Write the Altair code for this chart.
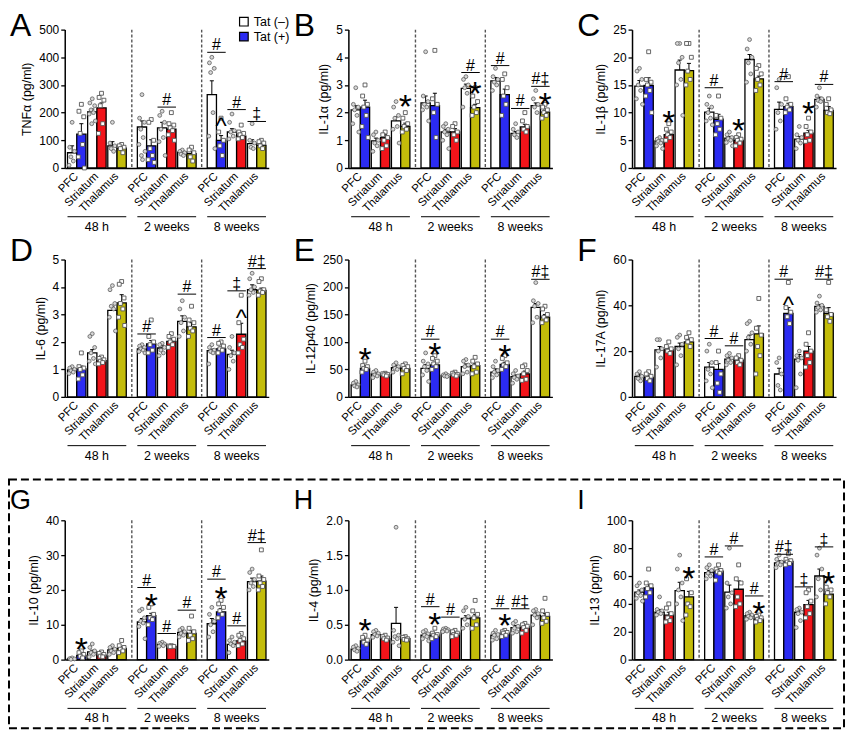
import altair as alt
import pandas as pd

FONT = "Liberation Sans"
GROUPS = ["48 h", "2 weeks", "8 weeks"]
REGIONS = ["PFC", "Striatum", "Thalamus"]
TAT = ["Tat (–)", "Tat (+)"]
LETTERS = ["A", "B", "C", "D", "E", "F", "G", "H", "I"]
YTITLES = ["TNFα (pg/ml)", "IL-1α (pg/ml)", "IL-1β (pg/ml)", "IL-6 (pg/ml)",
           "IL-12p40 (pg/ml)", "IL-17A (pg/ml)", "IL-10 (pg/ml)", "IL-4 (pg/ml)",
           "IL-13 (pg/ml)"]
YMAX = [500, 5, 25, 5, 250, 60, 40, 2.0, 100]
YSTEP = [100, 1, 5, 1, 50, 20, 10, 0.5, 20]
YFMT = ["d", "d", "d", "d", "d", "d", "d", ".1f", "d"]
PLUS_COLORS = ["#2b2bf2", "#f2141a", "#c3bc0a"]

# order: 48h(PFC-,PFC+,Str-,Str+,Thal-,Thal+), 2 weeks(...), 8 weeks(...)
A_MEAN = [55, 122, 203, 217, 80, 72, 148, 80, 145, 140, 57, 52, 265, 100, 130, 115, 88, 82]
A_SEM = [25, 38, 10, 18, 15, 8, 22, 22, 20, 12, 6, 8, 50, 17, 12, 8, 14, 7]
A_PTS = [[165, 75, 60, 40, 25, 10], [230, 205, 185, 125, 85, 40, 0],
         [250, 235, 225, 210, 200, 195, 170, 160], [270, 255, 245, 225, 160, 125],
         [165, 90, 80, 70, 60], [85, 80, 75, 70, 55],
         [265, 180, 165, 140, 110, 85, 60, 45, 30], [175, 165, 100, 70, 45, 30, 20],
         [205, 190, 165, 140, 110, 95, 45], [200, 160, 155, 145, 135, 120, 100],
         [65, 60, 55, 50, 45], [75, 65, 55, 40, 25],
         [400, 380, 360, 345, 200, 115, 70], [180, 130, 100, 80, 45],
         [195, 165, 135, 130, 115, 105], [155, 130, 125, 120, 110, 105],
         [160, 100, 90, 75, 70], [100, 95, 90, 80, 70]]
A_SIG = [(1, 1, "line", "#", 220), (2, 0, "line", "#", 418), (2, 0, "caret", "^", 150),
         (2, 1, "line", "#", 211), (2, 2, "line", "‡", 168)]

B_MEAN = [2.1, 2.2, 0.98, 1.1, 1.7, 1.5, 2.35, 2.25, 1.3, 1.3, 2.88, 2.18, 3.15, 2.65, 1.25, 1.48, 2.25, 2.02]
B_SEM = [0.15, 0.25, 0.1, 0.1, 0.15, 0.12, 0.25, 0.45, 0.1, 0.12, 0.15, 0.12, 0.12, 0.2, 0.07, 0.1, 0.1, 0.07]
B_PTS = [[2.9, 2.3, 2.2, 2.1, 1.9, 1.6, 1.3], [3.0, 2.6, 2.3, 2.2, 1.9, 1.5, 1.1],
         [1.3, 1.2, 1.0, 0.9, 0.8, 0.6], [1.3, 1.2, 1.1, 1.0, 0.8, 0.7],
         [2.4, 2.2, 1.9, 1.8, 1.5, 1.4, 0.9], [2.0, 1.8, 1.6, 1.5, 1.4, 1.3],
         [4.2, 2.6, 2.4, 2.3, 2.2, 2.1, 1.7], [4.25, 2.5, 2.3, 2.0, 1.1],
         [1.6, 1.5, 1.4, 1.3, 1.2, 1.0, 0.7], [1.6, 1.5, 1.3, 1.2, 1.0],
         [3.3, 3.2, 3.0, 2.9, 2.7, 2.2], [2.9, 2.6, 2.4, 2.2, 2.0, 1.9],
         [3.6, 3.3, 3.2, 3.1, 3.0, 2.8], [3.4, 3.2, 2.9, 2.6, 2.3, 1.9],
         [1.6, 1.4, 1.3, 1.2, 1.1], [2.0, 1.7, 1.5, 1.4, 1.3],
         [2.8, 2.5, 2.3, 2.2, 2.0], [2.3, 2.2, 2.1, 2.0, 1.9, 1.8]]
B_SIG = [(0, 2, "star", "*", 2.5), (1, 2, "line", "#", 3.45), (1, 2, "star", "*", 2.95),
         (2, 0, "line", "#", 3.7), (2, 1, "line", "#", 2.15), (2, 2, "line", "#‡", 2.95),
         (2, 2, "star", "*", 2.55)]

C_MEAN = [14.8, 14.9, 4.9, 6.0, 17.7, 17.6, 10.1, 8.8, 5.4, 5.0, 19.6, 16.1, 10.6, 11.1, 5.2, 6.3, 12.4, 10.4]
C_SEM = [1.0, 1.4, 0.4, 0.5, 1.8, 1.3, 0.7, 0.9, 0.3, 0.4, 0.9, 0.5, 1.3, 0.6, 0.5, 0.5, 0.4, 0.7]
C_PTS = [[18, 17.5, 16, 15, 14, 12.5, 11.5], [21, 16, 15.5, 15, 14, 13, 10],
         [5.5, 5.2, 5, 4.8, 4.5, 4, 3.5], [8, 7, 6.5, 6, 5.5, 5],
         [22.5, 22.5, 20, 19, 16, 15, 9.5], [22.5, 22.5, 20, 17.5, 16, 15],
         [13, 11.5, 11, 10, 9, 8.5, 7.8], [13, 9.5, 9, 8, 7, 6],
         [6.5, 6, 5.5, 5.3, 5, 4.6, 4], [6, 5.5, 5.2, 5, 4.5, 4],
         [23.2, 21.5, 20, 19, 17, 15.5], [18.5, 18, 17, 16, 15, 14],
         [16, 14.5, 11.5, 10, 8.5, 7], [16.5, 12.5, 11.5, 11, 10.5, 10],
         [7.5, 6, 5.5, 5, 4.5, 3.5], [9, 7.5, 6.5, 6, 5, 4.8],
         [14.5, 13, 12.5, 12.2, 12, 11], [12.5, 11.5, 10.5, 10, 9.8]]
C_SIG = [(0, 1, "star", "*", 9.6), (1, 0, "line", "#", 14.5), (1, 1, "star", "*", 8.1),
         (2, 0, "line", "#", 15.6), (2, 1, "star", "*", 11.1), (2, 2, "line", "#", 15.1)]

D_MEAN = [0.98, 1.02, 1.6, 1.32, 3.15, 3.42, 1.75, 1.93, 1.78, 2.02, 2.75, 2.55, 1.68, 1.75, 1.55, 2.28, 3.9, 3.88]
D_SEM = [0.05, 0.1, 0.12, 0.08, 0.15, 0.3, 0.05, 0.12, 0.1, 0.1, 0.2, 0.15, 0.06, 0.06, 0.15, 0.4, 0.18, 0.08]
D_PTS = [[1.1, 1.05, 1.0, 0.95, 0.9, 0.85], [1.6, 1.1, 1.05, 1.0, 0.8, 0.65],
         [2.3, 2.2, 1.8, 1.6, 1.4, 1.3, 1.2], [1.45, 1.4, 1.35, 1.3, 1.25, 1.2],
         [4.05, 3.9, 3.4, 3.3, 3.2, 2.9, 2.4], [4.2, 4.1, 3.6, 3.4, 3.2, 2.9, 2.6],
         [1.9, 1.85, 1.8, 1.75, 1.7, 1.65, 1.6], [2.8, 2.2, 2.0, 1.9, 1.7, 1.6],
         [1.95, 1.9, 1.8, 1.7, 1.6, 1.5], [2.3, 2.2, 2.1, 2.0, 1.9, 1.8],
         [3.5, 3.2, 2.9, 2.7, 2.4, 2.2], [3.3, 2.8, 2.7, 2.5, 2.4, 2.2],
         [1.9, 1.8, 1.7, 1.65, 1.6, 1.2], [2.0, 1.95, 1.85, 1.75, 1.7, 1.6],
         [2.2, 1.8, 1.6, 1.5, 1.3, 1.0], [3.7, 2.7, 2.1, 1.9, 1.8, 1.6],
         [4.5, 4.3, 4.0, 3.9, 3.8, 3.7], [4.3, 4.2, 3.9, 3.85, 3.8, 3.7]]
D_SIG = [(1, 0, "line", "#", 2.29), (1, 2, "line", "#", 3.74), (2, 0, "line", "#", 2.16),
         (2, 1, "line", "‡", 3.86), (2, 1, "caret", "^", 2.86), (2, 2, "line", "#‡", 4.67)]

E_MEAN = [22, 52, 42, 40, 53, 52, 52, 58, 39, 40, 55, 57, 45, 59, 37, 42, 163, 145]
E_SEM = [3, 5, 3, 2, 4, 4, 7, 5, 1, 2, 5, 4, 6, 4, 3, 5, 7, 5]
E_PTS = [[28, 25, 22, 20, 18], [65, 57, 55, 52, 50, 45],
         [48, 45, 42, 40, 38, 35], [43, 42, 41, 40, 38],
         [62, 58, 55, 52, 50, 45], [60, 57, 55, 52, 48, 42],
         [80, 65, 60, 55, 48, 40, 28], [75, 70, 65, 60, 55, 50],
         [42, 40, 39, 38, 37], [45, 43, 41, 40, 38],
         [68, 65, 58, 55, 45, 42], [72, 65, 60, 55, 45, 42],
         [65, 55, 48, 45, 40, 35], [75, 70, 62, 58, 55, 50],
         [48, 42, 38, 35, 32, 25], [58, 55, 48, 42, 32, 30],
         [208, 175, 170, 165, 145, 135], [165, 160, 150, 145, 140, 135]]
E_SIG = [(0, 0, "star", "*", 81), (1, 0, "line", "#", 105), (1, 0, "star", "*", 90),
         (2, 0, "line", "#", 105), (2, 0, "star", "*", 87), (2, 2, "line", "#‡", 214)]

F_MEAN = [9, 8.5, 20.5, 20.5, 22, 24, 13, 12, 16.5, 16, 25, 27.5, 10, 36.5, 16.5, 20, 39.5, 36.5]
F_SEM = [1, 0.8, 1.5, 0.8, 1.5, 1, 2, 2.5, 0.8, 1, 2, 3.5, 2.5, 2.5, 2, 2, 0.8, 2.5]
F_PTS = [[11, 10, 9, 8, 7], [11, 10, 9, 8, 7],
         [25, 25, 21, 20, 17, 13], [24, 22, 21, 20, 19],
         [27, 26, 23, 21, 18, 14], [28, 26, 25, 24, 22],
         [23, 20, 15, 12, 10, 7, 4], [20, 15, 10, 6, 2],
         [19, 18, 17, 16, 15, 14], [18, 17, 16, 15, 14],
         [33, 32, 28, 26, 23, 20], [43, 30, 27, 22, 18, 10],
         [17, 15, 10, 5, 3], [50, 39, 37, 35, 32],
         [20, 18, 17, 16, 10, 4], [28, 23, 20, 18, 15, 13],
         [44, 41, 40, 39, 38, 37], [50, 38, 36, 35, 33]]
F_SIG = [(1, 0, "line", "#", 25.5), (1, 1, "line", "#", 22.3), (2, 0, "line", "#", 51.4),
         (2, 0, "caret", "^", 40.3), (2, 2, "line", "#‡", 51.4)]

G_MEAN = [0.3, 1.2, 2.2, 1.3, 2.8, 3.2, 10.8, 12.6, 4.4, 3.8, 7.8, 7.5, 10.3, 13.7, 4.4, 5.4, 22.4, 22.5]
G_SEM = [0.2, 0.5, 0.5, 0.3, 0.4, 0.5, 1, 0.7, 0.2, 0.1, 0.5, 0.8, 1.5, 1, 0.5, 0.4, 1, 1.5]
G_PTS = [[0.5, 0.3, 0.2, 0.1], [2.5, 2, 1.5, 1, 0.5],
         [4.5, 3.5, 2.5, 2, 1.5, 0.8], [2.2, 1.8, 1.5, 1, 0.8],
         [4, 3.5, 3, 2.5, 2, 1.5], [5.5, 4, 3.5, 3, 2.5, 2],
         [14.5, 14, 12, 11, 10.5, 9.5, 6], [16, 15, 13, 12, 11.5, 10],
         [5, 4.7, 4.5, 4.3, 4, 3.8], [4, 3.9, 3.8, 3.7],
         [9, 8.5, 8, 7.5, 7, 6.5], [12.5, 9, 8, 7, 6, 5.5],
         [15, 13, 11, 10, 8, 6.5], [17, 16, 15, 14, 13, 12],
         [6.5, 5.5, 5, 4.5, 4, 2], [7.5, 7, 6, 5.5, 4.5, 4],
         [26, 25, 23, 22, 21, 20], [31.5, 24, 23, 22, 21, 20]]
G_SIG = [(0, 0, "star", "*", 4.9), (1, 0, "line", "#", 20.7), (1, 0, "star", "*", 17.8),
         (1, 1, "line", "#", 7.5), (1, 2, "line", "#", 14.2), (2, 0, "line", "#", 23.1),
         (2, 0, "star", "*", 19.7), (2, 1, "line", "#", 9.7), (2, 2, "line", "#‡", 33.6)]

H_MEAN = [0.15, 0.27, 0.36, 0.3, 0.52, 0.3, 0.35, 0.35, 0.42, 0.38, 0.59, 0.6, 0.35, 0.38, 0.46, 0.47, 0.64, 0.62]
H_SEM = [0.02, 0.03, 0.02, 0.02, 0.23, 0.02, 0.02, 0.02, 0.01, 0.02, 0.04, 0.05, 0.02, 0.02, 0.03, 0.02, 0.03, 0.04]
H_PTS = [[0.2, 0.18, 0.16, 0.14, 0.12], [0.35, 0.32, 0.28, 0.25, 0.22],
         [0.42, 0.4, 0.38, 0.36, 0.34, 0.32], [0.35, 0.33, 0.31, 0.3, 0.28],
         [1.9, 0.42, 0.35, 0.33, 0.3, 0.25, 0.2], [0.33, 0.32, 0.3, 0.29, 0.28],
         [0.42, 0.4, 0.37, 0.35, 0.33, 0.3, 0.27], [0.45, 0.38, 0.36, 0.35, 0.33, 0.3],
         [0.45, 0.44, 0.43, 0.42, 0.41, 0.4], [0.42, 0.4, 0.38, 0.36, 0.35, 0.33],
         [0.75, 0.7, 0.62, 0.58, 0.5, 0.45], [0.85, 0.7, 0.65, 0.6, 0.5, 0.45],
         [0.42, 0.38, 0.36, 0.35, 0.3, 0.28], [0.42, 0.4, 0.39, 0.38, 0.35, 0.33],
         [0.55, 0.52, 0.48, 0.45, 0.4, 0.38], [0.52, 0.5, 0.48, 0.46, 0.42, 0.38],
         [0.72, 0.7, 0.66, 0.64, 0.6, 0.5], [0.88, 0.7, 0.65, 0.6, 0.55, 0.52]]
H_SIG = [(0, 0, "star", "*", 0.52), (1, 0, "line", "#", 0.76), (1, 0, "star", "*", 0.61),
         (1, 1, "line", "#", 0.61), (2, 0, "line", "#", 0.73), (2, 0, "star", "*", 0.59),
         (2, 1, "line", "#‡", 0.73)]

I_MEAN = [48.5, 51.5, 34, 32, 49.5, 45, 62.5, 63.5, 48.5, 50.5, 31.5, 29, 69.5, 70.5, 34, 39.5, 60, 47]
I_SEM = [1.5, 2.5, 2, 2, 6, 4, 1.5, 1.5, 5, 6, 1, 1, 1.5, 1, 2.5, 3, 5, 2.5]
I_PTS = [[55, 53, 50, 48, 46, 44, 42], [65, 55, 53, 51, 48, 45],
         [45, 36, 35, 34, 33, 32], [40, 37, 33, 30, 28, 27],
         [75, 65, 55, 50, 45, 40, 28], [62, 58, 48, 40, 38, 32],
         [68, 66, 64, 62, 60, 58], [68, 65, 64, 63, 62, 57],
         [80, 55, 48, 45, 40, 37], [68, 58, 55, 45, 40, 38],
         [34, 33, 32, 31, 30, 29], [32, 31, 30, 29, 28, 27],
         [75, 72, 70, 69, 68, 66], [76, 72, 71, 70, 69, 68],
         [37, 36, 34, 33, 28, 23], [50, 48, 42, 38, 33, 30],
         [80, 75, 65, 58, 50, 45], [58, 52, 50, 48, 45, 40]]
I_SIG = [(0, 2, "star", "*", 63.6), (1, 0, "line", "#", 73.7), (1, 1, "line", "#", 81.6),
         (1, 2, "line", "#", 45.7), (1, 2, "star", "*", 38.5), (2, 0, "line", "#‡", 75.6),
         (2, 1, "line", "‡", 52.2), (2, 2, "line", "‡", 80.9), (2, 2, "star", "*", 60)]

PANEL_DATA = [(A_MEAN, A_SEM, A_PTS, A_SIG), (B_MEAN, B_SEM, B_PTS, B_SIG),
              (C_MEAN, C_SEM, C_PTS, C_SIG), (D_MEAN, D_SEM, D_PTS, D_SIG),
              (E_MEAN, E_SEM, E_PTS, E_SIG), (F_MEAN, F_SEM, F_PTS, F_SIG),
              (G_MEAN, G_SEM, G_PTS, G_SIG), (H_MEAN, H_SEM, H_PTS, H_SIG),
              (I_MEAN, I_SEM, I_PTS, I_SIG)]

# ---- layout constants ----
W = 205
PLOT_H = [139, 138, 140]     # plot height per row
TOP_PAD = [0, 0, 32]         # empty band above plot (extra row gap for bottom row)
BAR, PGAP, GGAP, PAD = 1.0, 0.18, 1.2, 0.3
GW = 6 * BAR + 2 * PGAP
XMAX = 2 * PAD + 3 * GW + 2 * GGAP
OFFS = [0.0, -0.26, 0.26, -0.13, 0.13, -0.33, 0.33, -0.06, 0.06]


def gstart(g):
    return PAD + g * (GW + GGAP)


def pstart(g, r):
    return gstart(g) + r * (2 * BAR + PGAP)


ONE = pd.DataFrame({"a": [0]})


def panel(k):
    means, sems, pts, sigs = PANEL_DATA[k]
    row = k // 3
    tp = TOP_PAD[row]
    H = PLOT_H[row] + tp
    ymax, ystep = YMAX[k], YSTEP[k]
    rows, prow = [], []
    i = 0
    for g in range(3):
        for r in range(3):
            for t in range(2):
                x0 = pstart(g, r) + t * BAR
                xc = x0 + BAR / 2
                rows.append(dict(x0=x0, x1=x0 + BAR, xc=xc, mean=means[i],
                                 top=means[i] + sems[i], cl=xc - 0.22, cr=xc + 0.22,
                                 fill=(PLUS_COLORS[r] if t else "white")))
                for j, v in enumerate(sorted(pts[i], reverse=True)):
                    prow.append(dict(px=xc + OFFS[j % len(OFFS)], v=v, t=t))
                i += 1
    bars = pd.DataFrame(rows)
    P = pd.DataFrame(prow)
    xs = alt.Scale(domain=[0, XMAX], nice=False, zero=False)
    ys = alt.Scale(domain=[0, ymax], nice=False, zero=True, range=[H, tp])
    ticks = [round(ystep * j, 3) for j in range(int(round(ymax / ystep)) + 1)]
    xaxis = alt.Axis(labels=False, ticks=False, title=None, grid=False,
                     domainColor="black", domainWidth=1.5)
    yaxis = alt.Axis(values=ticks, format=YFMT[k], title=YTITLES[k], grid=False,
                     domainColor="black", domainWidth=1.5, tickColor="black",
                     tickSize=4, tickWidth=1.3, labelFont=FONT, labelFontSize=12,
                     labelColor="black", labelPadding=2, titleFont=FONT,
                     titleFontSize=12.5, titleFontWeight="normal", titleColor="black",
                     titlePadding=5)

    def X(f):
        return alt.X(f, scale=xs, axis=xaxis)

    def Y(f):
        return alt.Y(f, scale=ys, axis=yaxis)

    layers = []
    layers.append(alt.Chart(bars).mark_rect(stroke="black", strokeWidth=1.3).encode(
        x=X("x0:Q"), x2="x1", y=Y("mean:Q"), y2=alt.datum(0),
        fill=alt.Fill("fill:N", scale=None)))
    seps = pd.DataFrame({"s": [gstart(1) - GGAP / 2, gstart(2) - GGAP / 2]})
    layers.append(alt.Chart(seps).mark_rule(color="#555555", strokeWidth=1.4, strokeDash=[3, 2])
                  .encode(x=X("s:Q"), y=alt.value(tp), y2=alt.value(H)))
    layers.append(alt.Chart(bars).mark_rule(color="black", strokeWidth=1).encode(
        x=X("xc:Q"), y=Y("mean:Q"), y2="top"))
    layers.append(alt.Chart(bars).mark_rule(color="black", strokeWidth=1).encode(
        x=X("cl:Q"), x2="cr", y=Y("top:Q")))
    layers.append(alt.Chart(P[P.t == 0]).mark_point(
        shape="circle", filled=True, fill="#d6d6d6", stroke="#5e5e5e", strokeWidth=0.8,
        size=15, opacity=1).encode(x=X("px:Q"), y=Y("v:Q")))
    layers.append(alt.Chart(P[P.t == 1]).mark_point(
        shape="square", filled=True, fill="white", stroke="#555555", strokeWidth=0.9,
        size=15, opacity=1).encode(x=X("px:Q"), y=Y("v:Q")))
    # region labels
    lab = pd.DataFrame([dict(x=pstart(g, r) + BAR, name=REGIONS[r])
                        for g in range(3) for r in range(3)])
    layers.append(alt.Chart(lab).mark_text(angle=315, align="right", baseline="middle",
                                           font=FONT, fontSize=11.5, color="black")
                  .encode(x=X("x:Q"), y=alt.value(H + 7), text="name:N"))
    grp = pd.DataFrame([dict(gs=gstart(g), ge=gstart(g) + GW, gc=gstart(g) + GW / 2,
                             name=GROUPS[g]) for g in range(3)])
    layers.append(alt.Chart(grp).mark_rule(color="black", strokeWidth=1).encode(
        x=X("gs:Q"), x2="ge", y=alt.value(H + 49)))
    layers.append(alt.Chart(grp).mark_text(font=FONT, fontSize=12.5, baseline="middle",
                                           color="black")
                  .encode(x=X("gc:Q"), y=alt.value(H + 59), text="name:N"))
    # significance
    lines, hashes, stars, carets = [], [], [], []
    for (g, r, kind, sym, yv) in sigs:
        ps = pstart(g, r)
        if kind == "line":
            lines.append(dict(a=ps, b=ps + 2 * BAR, y=yv))
            hashes.append(dict(x=ps + BAR, y=yv, s=sym))
        elif kind == "star":
            stars.append(dict(x=ps + 1.5 * BAR, y=yv, s=sym))
        else:
            carets.append(dict(x=ps + 1.5 * BAR, y=yv, s=sym))
    if lines:
        layers.append(alt.Chart(pd.DataFrame(lines)).mark_rule(color="black", strokeWidth=1)
                      .encode(x=X("a:Q"), x2="b", y=Y("y:Q")))
        layers.append(alt.Chart(pd.DataFrame(hashes)).mark_text(
            font=FONT, fontSize=16, baseline="alphabetic", dy=-2, color="black")
            .encode(x=X("x:Q"), y=Y("y:Q"), text="s:N"))
    if stars:
        layers.append(alt.Chart(pd.DataFrame(stars)).mark_text(
            font=FONT, fontSize=34, baseline="middle", dy=9, color="black")
            .encode(x=X("x:Q"), y=Y("y:Q"), text="s:N"))
    if carets:
        layers.append(alt.Chart(pd.DataFrame(carets)).mark_text(
            font=FONT, fontSize=24, baseline="alphabetic", dy=8, color="black")
            .encode(x=X("x:Q"), y=Y("y:Q"), text="s:N"))
    # panel letter
    lfs = 32 if row < 2 else 27
    ly = [6, 1, -11][row] + tp
    layers.append(alt.Chart(ONE).mark_text(font=FONT, fontSize=lfs, align="left",
                                           baseline="alphabetic", color="black")
                  .encode(x=alt.value(-55), y=alt.value(ly), text=alt.value(LETTERS[k])))
    if k == 0:
        leg = pd.DataFrame({"name": TAT, "fill": ["white", PLUS_COLORS[0]]})
        sq = alt.Chart(leg).mark_square(size=75, stroke="black", strokeWidth=1.2, opacity=1)
        tx = alt.Chart(leg).mark_text(font=FONT, fontSize=12.5, align="left",
                                      baseline="middle", color="black")
        for j in range(2):
            layers.append(sq.transform_filter(alt.datum.name == TAT[j])
                          .encode(x=alt.value(180), y=alt.value(-8 + 15 * j),
                                  fill=alt.Fill("fill:N", scale=None)))
            layers.append(tx.transform_filter(alt.datum.name == TAT[j])
                          .encode(x=alt.value(190), y=alt.value(-8 + 15 * j), text="name:N"))
    if k == 6:
        layers.append(alt.Chart(ONE).mark_rect(fill=None, fillOpacity=0, stroke="black",
                                               strokeWidth=2, strokeDash=[8, 4])
                      .encode(x=alt.value(-56), x2=alt.value(783),
                              y=alt.value(tp - 41), y2=alt.value(tp + 209)))
    return alt.layer(*layers).properties(width=W, height=H)


panels = [panel(k) for k in range(9)]
chart = (alt.concat(*panels, columns=3, spacing={"row": 92, "column": 80}, bounds="flush")
         .resolve_scale(x="independent", y="independent")
         .properties(padding={"top": 0, "left": 0, "right": 2, "bottom": 2})
         .configure_view(stroke=None))

chart.save("out.html", embed_options={"renderer": "svg", "actions": False})
